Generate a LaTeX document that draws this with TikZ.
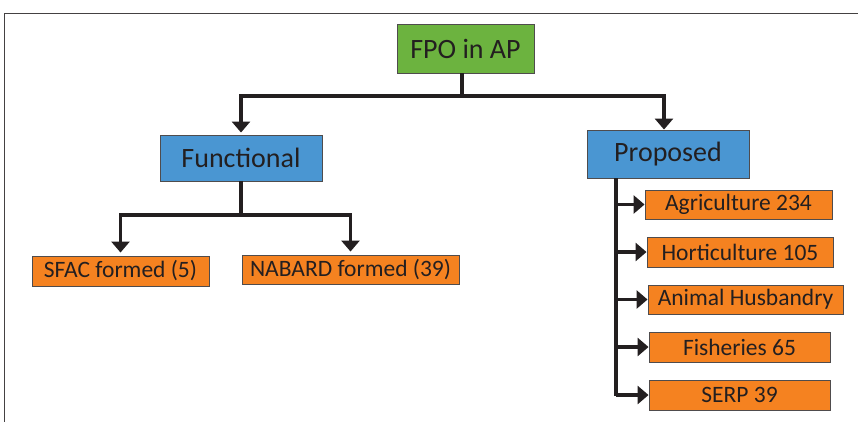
\documentclass[tikz,border=0pt]{standalone}
\usepackage{fontspec}
\setmainfont{Carlito}
\usetikzlibrary{arrows.meta}
\definecolor{ink}{HTML}{231F20}
\definecolor{fgreen}{HTML}{6CB33F}
\definecolor{fblue}{HTML}{4A96D2}
\definecolor{forange}{HTML}{F58220}
\tikzset{
  box/.style={draw=ink!80, line width=0.9pt, inner sep=0pt, text=ink, align=center},
  topbox/.style={box, font=\fontsize{28}{30}\selectfont},
  leaf/.style={box, fill=forange, font=\fontsize{23.5}{25}\selectfont},
  conn/.style={draw=ink, line width=3.2pt},
  arr/.style={conn, -{Triangle[width=18pt,length=11pt]}},
}
\begin{document}
\begin{tikzpicture}[x=1pt,y=-1pt]
\useasboundingbox (0,0) rectangle (858,421);
\fill[white] (0,0) rectangle (858,421);
\draw[ink!85, line width=1.5pt] (4.5,425) -- (4.5,13.5) -- (862,13.5);

\node[topbox, fill=fgreen, minimum width=137pt, minimum height=49pt] (FPO) at (465.5,48.5) {FPO in AP};
\node[topbox, fill=fblue, minimum width=162pt, minimum height=46pt] (Functional) at (241,158) {Functional};
\node[topbox, fill=fblue, minimum width=162pt, minimum height=48pt] (Proposed) at (668,154) {Proposed};

\node[leaf, minimum width=177pt, minimum height=30pt] (SFAC) at (120.5,271) {SFAC formed (5)};
\node[leaf, minimum width=217pt, minimum height=29pt] (NABARD) at (350.5,269.5) {NABARD formed (39)};

\node[leaf, minimum width=187pt, minimum height=29pt] (Agri) at (738.5,204.5) {Agriculture 234};
\node[leaf, minimum width=186pt, minimum height=30pt] (Horti) at (740,252) {Horticulture 105};
\node[leaf, minimum width=195pt, minimum height=29pt] (Animal) at (745.5,299.5) {Animal Husbandry};
\node[leaf, minimum width=181pt, minimum height=30pt] (Fish) at (739.5,347) {Fisheries 65};
\node[leaf, minimum width=181pt, minimum height=30pt] (SERP) at (739.5,395) {SERP 39};

% FPO -> Functional / Proposed
\coordinate (j1) at (462,96);
\draw[conn] (FPO.south -| j1) -- (j1);
\draw[arr, shorten >=2pt] (j1) -| (Functional.north);
\draw[arr] (j1) -| ([xshift=-4pt]Proposed.north);

% Functional -> SFAC / NABARD
\coordinate (j2) at (241,215);
\draw[conn] (Functional.south) -- (j2);
\draw[arr, shorten >=3pt] (j2) -| (SFAC.north);
\draw[arr, shorten >=3pt] (j2) -| (NABARD.north);

% Proposed -> list
\coordinate (vtop) at (616,178);
\coordinate (vbot) at (616,396);
\draw[conn] (vtop) -- (vbot);
\foreach \n in {Agri,Horti,Animal,Fish,SERP}
  \draw[arr] (vtop |- \n.west) -- (\n.west);
\end{tikzpicture}
\end{document}
